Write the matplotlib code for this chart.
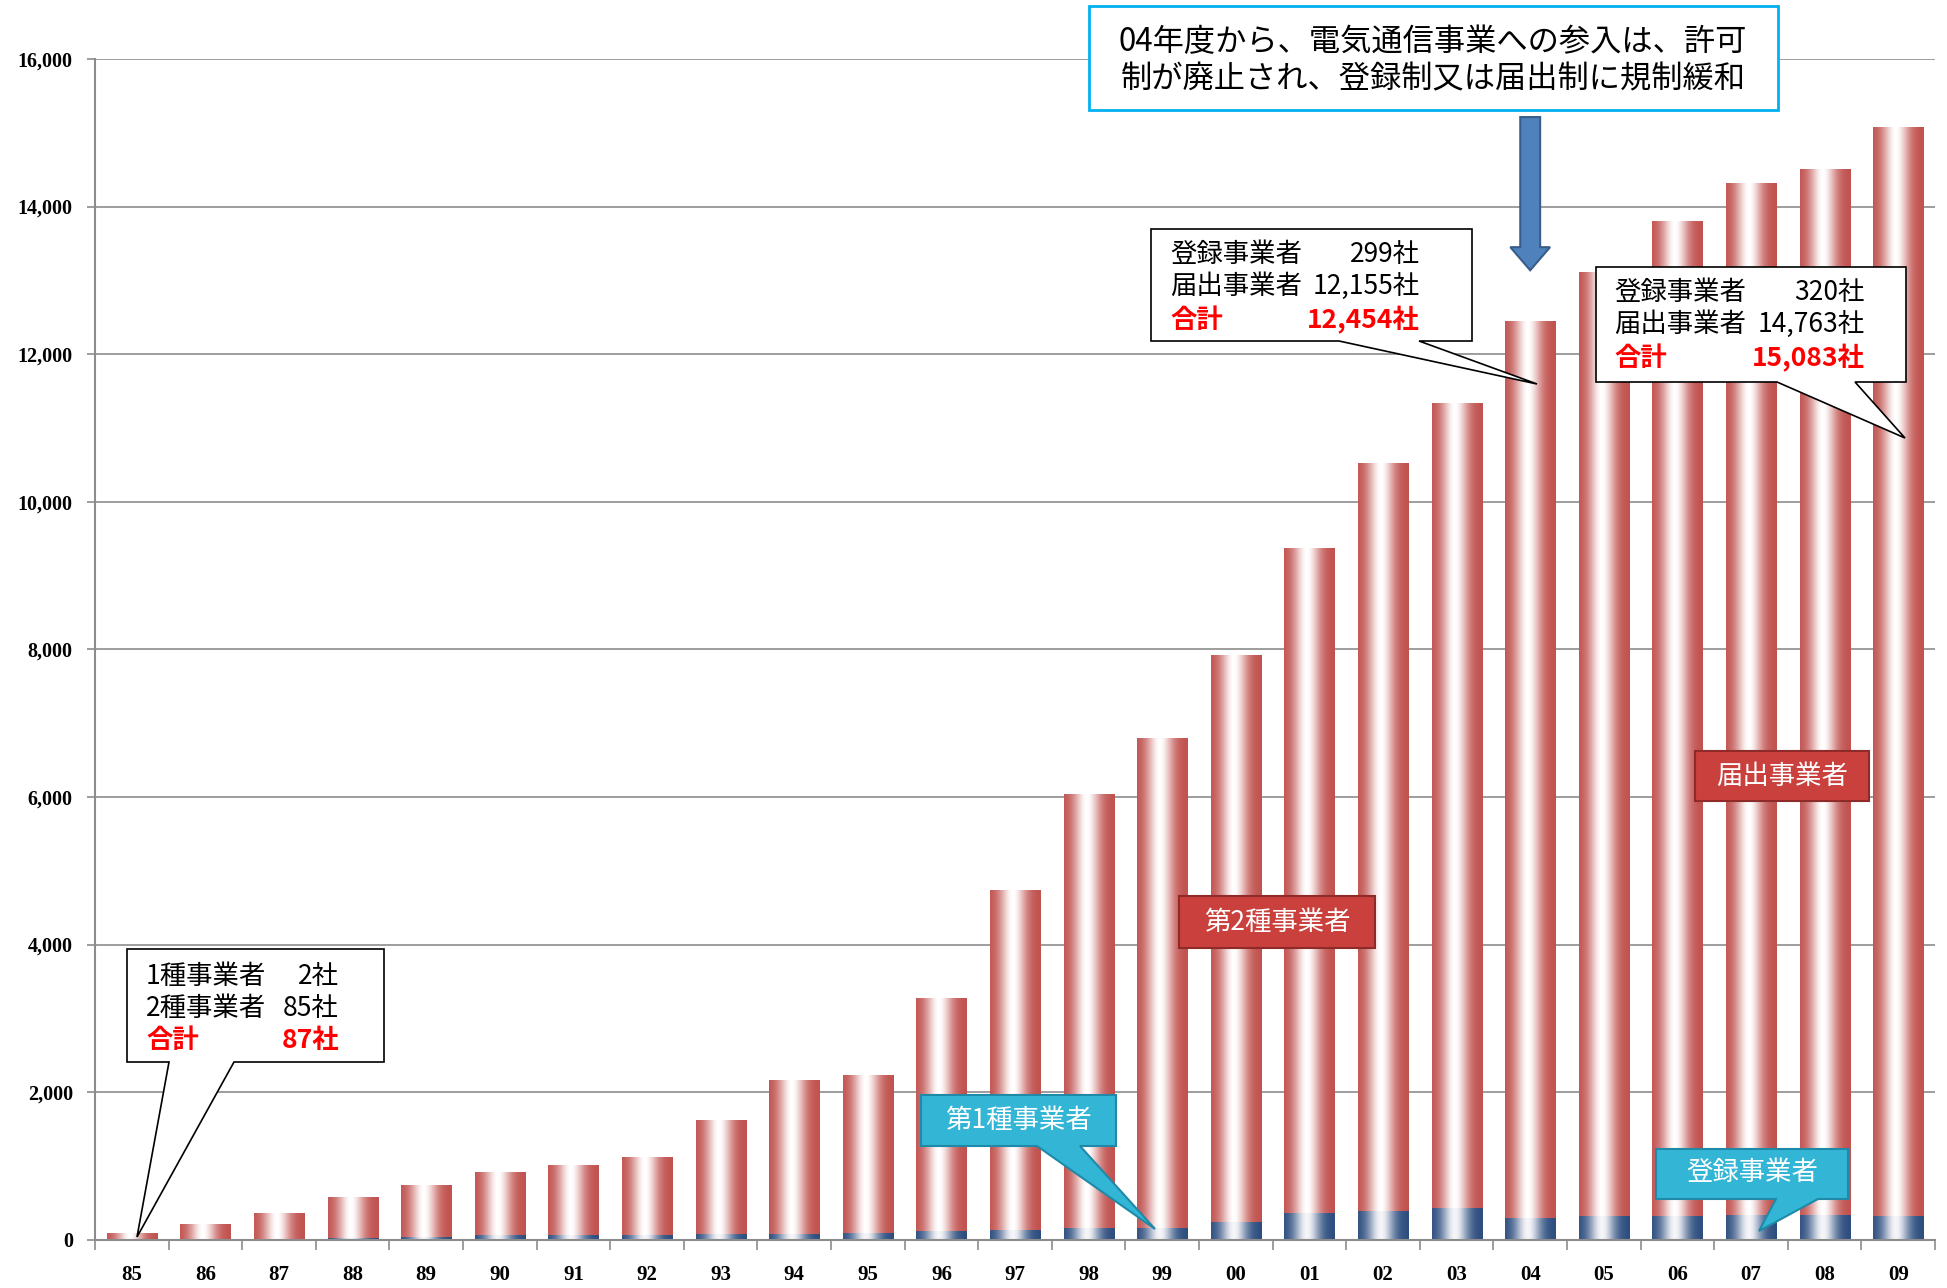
import numpy as np
import matplotlib
matplotlib.use("Agg")
import matplotlib.pyplot as plt
from matplotlib.patches import Polygon, Rectangle, FancyArrow

plt.rcParams['font.family'] = ['Noto Sans CJK JP', 'DejaVu Sans']

# data
years = ['85', '86', '87', '88', '89', '90', '91', '92', '93', '94', '95', '96',
         '97', '98', '99', '00', '01', '02', '03', '04', '05', '06', '07', '08', '09']
# 第1種事業者 (-03) / 登録事業者 (04-)
kind1 = [2, 7, 12, 20, 38, 62, 57, 57, 77, 77, 96, 116, 135, 154, 164,
         242, 357, 391, 429, 299, 320, 320, 330, 330, 320]
total = [87, 208, 362, 574, 747, 916, 1017, 1118, 1623, 2162, 2230, 3274,
         4739, 6036, 6794, 7922, 9371, 10532, 11340, 12454, 13109, 13799,
         14321, 14507, 15083]
kind2 = [t - k for t, k in zip(total, kind1)]   # 第2種事業者 / 届出事業者

W, H = 1947, 1288


def P(x, y):
    # reference pixel -> figure fraction
    return (x / W, 1 - y / H)


def gradient_bars(ax, bars, edge, center):
    x = np.linspace(0, 1, 128)
    f = np.exp(-((x - 0.45) / 0.26) ** 2)
    e = np.array(matplotlib.colors.to_rgb(edge))
    c = np.array(matplotlib.colors.to_rgb(center))
    img = (e[None, :] * (1 - f[:, None]) + c[None, :] * f[:, None])[None, :, :]
    for b in bars:
        x0, y0 = b.get_xy()
        im = ax.imshow(img, extent=[x0, x0 + b.get_width(), y0, y0 + b.get_height()],
                       aspect='auto', interpolation='bilinear', zorder=2)
        im.set_clip_path(b)
        b.set_facecolor('none')


fig = plt.figure(figsize=(W / 100, H / 100), dpi=100)
ax = fig.add_axes([95 / W, 1 - 1239.7 / H, (1935 - 95) / W, (1239.7 - 59) / H])

xs = np.arange(len(years))
b1 = ax.bar(xs, kind1, width=0.68, linewidth=0, zorder=2)
b2 = ax.bar(xs, kind2, bottom=kind1, width=0.68, linewidth=0, zorder=2)
gradient_bars(ax, b1, '#2B4C7E', '#F6F6F9')
gradient_bars(ax, b2, '#C0504D', '#FFFFFF')

ax.set_xlim(-0.5, len(years) - 0.5)
ax.set_ylim(0, 16000)
ax.set_yticks(np.arange(0, 16001, 2000))
ax.set_yticklabels([f'{v:,}' for v in range(0, 16001, 2000)],
                   family='Liberation Serif', fontsize=14.5, fontweight='bold')
ax.set_xticks(xs)
ax.set_xticklabels(years, family='Liberation Serif', fontsize=15, fontweight='bold')
ax.set_xticks(np.arange(-0.5, len(years)), minor=True)
ax.tick_params(axis='x', which='major', length=0, pad=18)
ax.tick_params(axis='x', which='minor', length=7, width=1.2, color='#8C8C8C')
ax.tick_params(axis='y', length=6, width=1.2, color='#8C8C8C', pad=10)
ax.grid(axis='y', color='#8C8C8C', linewidth=1.2, zorder=0)
ax.set_axisbelow(True)
for s in ['top', 'right']:
    ax.spines[s].set_visible(False)
for s in ['left', 'bottom']:
    ax.spines[s].set_color('#8C8C8C')
    ax.spines[s].set_linewidth(1.5)

# arrow down to 04
ax.add_patch(FancyArrow(19, 15213, 0, -2076, width=0.27, head_width=0.54,
                        head_length=313, length_includes_head=True,
                        fc='#4F81BD', ec='#385D8A', lw=1.5, zorder=5))

# top note
fig.add_artist(Rectangle(P(1089, 110), (1778 - 1089) / W, 104 / H,
                         transform=fig.transFigure, fc='white', ec='#00B0F0', lw=2))
fig.text(*P(1433, 42), '04年度から、電気通信事業への参入は、許可', fontsize=22.5,
         ha='center', va='center')
fig.text(*P(1433, 79), '制が廃止され、登録制又は届出制に規制緩和', fontsize=22.5,
         ha='center', va='center')


def callout(box, base, tip, fc='white', ec='black', lw=1.2):
    x0, y0, x1, y1 = box
    pts = [(x0, y0), (x1, y0), (x1, y1), (base[1], y1), tip, (base[0], y1), (x0, y1)]
    fig.add_artist(Polygon([P(*p) for p in pts], closed=True, transform=fig.transFigure,
                           fc=fc, ec=ec, lw=lw))


def callout_text(left, right, rows, lines):
    for (lab, num), y, i in zip(lines, rows, range(3)):
        red = i == 2
        kw = dict(fontsize=19, va='center', color='#FF0000' if red else 'black',
                  fontweight='bold' if red else 'normal')
        fig.text(*P(left, y), lab, ha='left', **kw)
        fig.text(*P(right, y), num, ha='right', **kw)


callout((127, 949, 384, 1062), (169, 234), (137, 1237))
callout_text(146, 339, (977, 1008, 1040),
             [('1種事業者', '2社'), ('2種事業者', '85社'), ('合計', '87社')])

callout((1151, 229, 1472, 341), (1339, 1419), (1537, 384))
callout_text(1170, 1420, (255, 287, 320),
             [('登録事業者', '299社'), ('届出事業者', '12,155社'), ('合計', '12,454社')])

callout((1596, 267, 1906, 382), (1777, 1855), (1905, 438))
callout_text(1614, 1865, (293, 325, 358),
             [('登録事業者', '320社'), ('届出事業者', '14,763社'), ('合計', '15,083社')])

# coloured series labels
red_fc, red_ec = '#C9403D', '#8E2A28'
cyan_fc, cyan_ec = '#33B5D6', '#1F8AA8'
callout((1179, 896, 1375, 948), (1270, 1290), (1280, 948), fc=red_fc, ec=red_ec, lw=1.5)
fig.text(*P(1277, 922), '第2種事業者', fontsize=19, color='white', ha='center', va='center')
callout((1695, 751, 1869, 801), (1780, 1790), (1785, 801), fc=red_fc, ec=red_ec, lw=1.5)
fig.text(*P(1782, 776), '届出事業者', fontsize=19, color='white', ha='center', va='center')
callout((921, 1095, 1116, 1146), (1037, 1080), (1155, 1229), fc=cyan_fc, ec=cyan_ec, lw=1.5)
fig.text(*P(1018, 1120), '第1種事業者', fontsize=19, color='white', ha='center', va='center')
callout((1656, 1149, 1848, 1199), (1776, 1818), (1759, 1231), fc=cyan_fc, ec=cyan_ec, lw=1.5)
fig.text(*P(1752, 1173), '登録事業者', fontsize=19, color='white', ha='center', va='center')

fig.savefig('out.png', dpi=100)
